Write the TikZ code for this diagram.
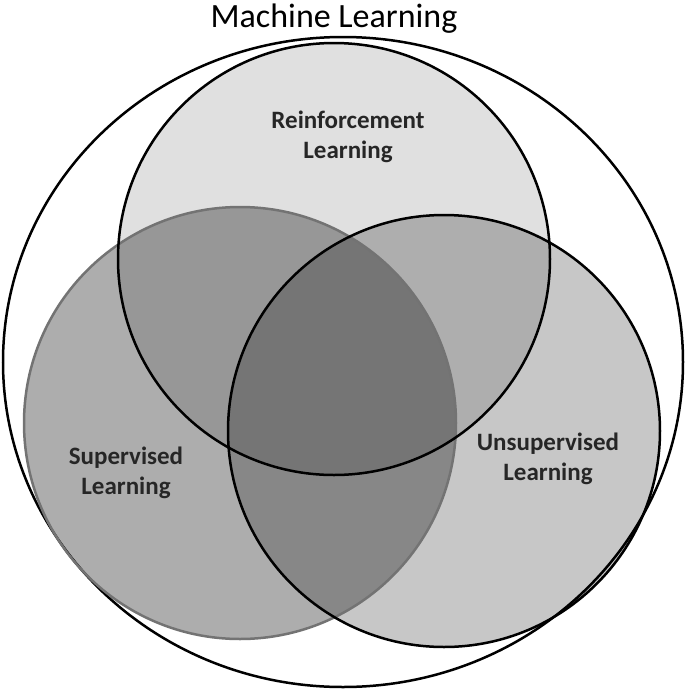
\documentclass[tikz,border=0pt]{standalone}
\usepackage{fontspec}
\setmainfont{Carlito}
\begin{document}
\begin{tikzpicture}[x=1pt,y=-1pt,
  lbl/.style={font=\bfseries\fontsize{25}{30}\selectfont,align=center,text=black!85},
  ring/.style={line width=2.5pt}]
\useasboundingbox (0,0) rectangle (685,689);
\node[font=\fontsize{34}{38}\selectfont] (title) at (334,19) {Machine Learning};
\draw[ring,fill=white] (343,362) ellipse [x radius=340,y radius=325];
\fill[black,opacity=0.12] (334,259) circle (216);
\fill[black,opacity=0.32] (240,423) circle (216);
\fill[black,opacity=0.22] (444,431) circle (216);
\draw[ring,draw=black!55] (240,423) circle (216);
\draw[ring] (334,259) circle (216);
\draw[ring] (444,431) circle (216);
\node[lbl] (rl) at (348,137) {Reinforcement\\Learning};
\node[lbl] (sl) at (126,473) {Supervised\\Learning};
\node[lbl] (ul) at (548,459) {Unsupervised\\Learning};
\end{tikzpicture}
\end{document}
